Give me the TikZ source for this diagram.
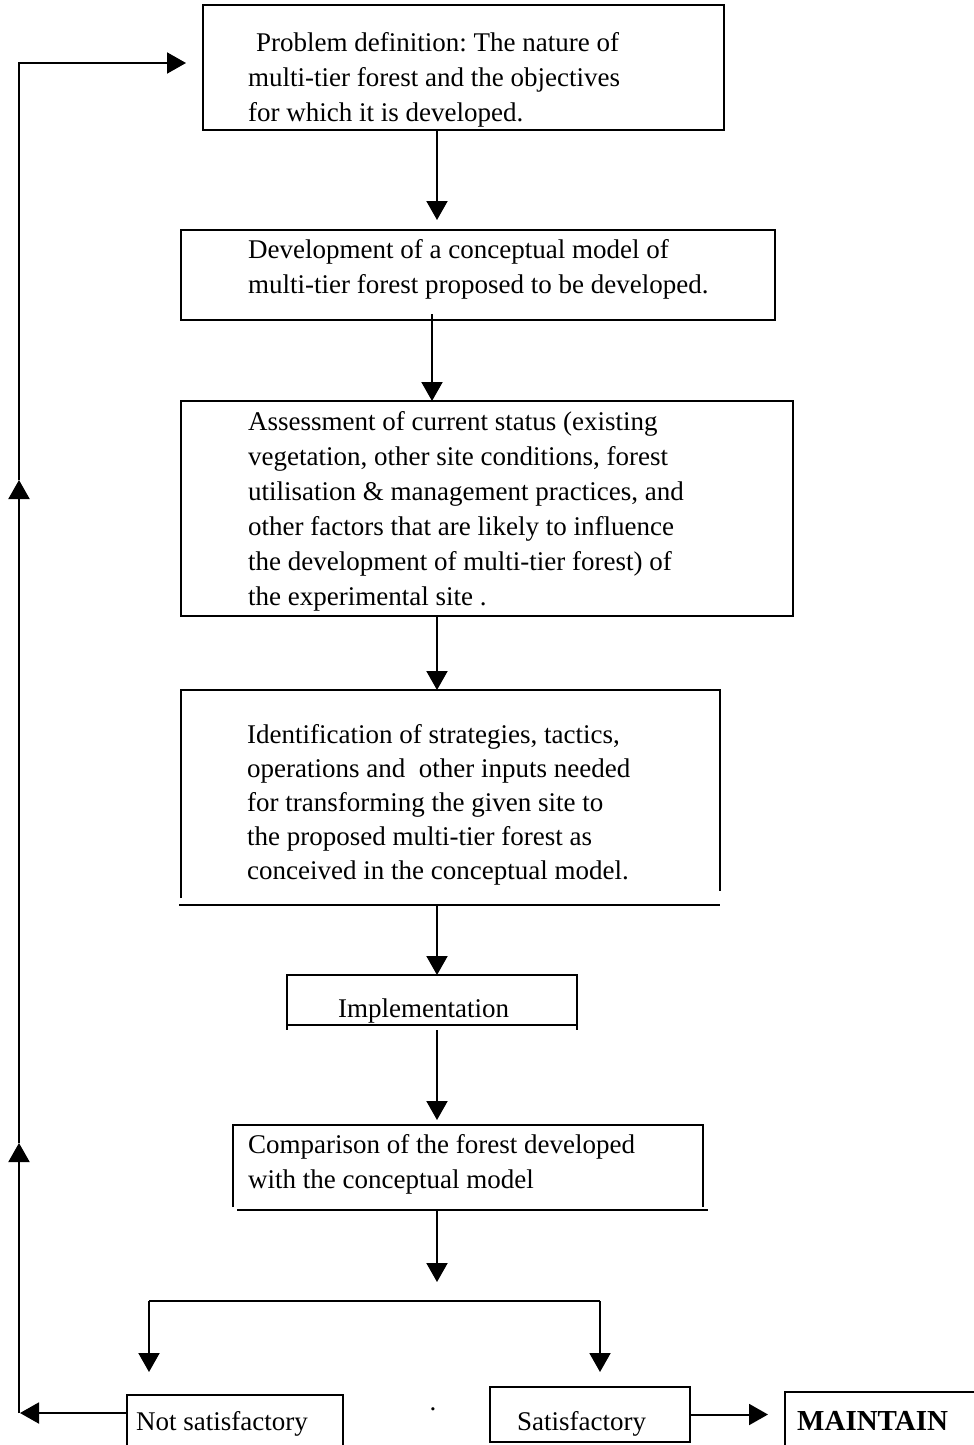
\documentclass[tikz,border=0pt]{standalone}
\usepackage{fontspec}
\setmainfont{Liberation Serif}
\usetikzlibrary{arrows.meta}
\frenchspacing
\newcommand\mylines[1]{\begin{tabular}[t]{@{}l@{}}#1\end{tabular}}
\begin{document}
\begin{tikzpicture}[x=1pt,y=-1pt,
  frame/.style={rectangle, inner sep=0pt, outer sep=0pt, draw=none},
  box/.style={frame, draw, line width=2.6pt},
  boxline/.style={line width=2.6pt},
  conn/.style={line width=2pt, -{Triangle[length=19pt,width=21pt]}},
  plain/.style={line width=2pt},
  txt/.style={inner sep=0pt, anchor=base west, font=\fontsize{27}{35}\selectfont},
]
\useasboundingbox (0,0) rectangle (974,1445);

% boxes
\node[box, minimum width=521pt, minimum height=125pt] (b1) at (463.5,67.5) {};
\node[box, minimum width=594pt, minimum height=90pt] (b2) at (478,275) {};
\node[box, minimum width=612pt, minimum height=215pt] (b3) at (487,508.5) {};
\node[frame, minimum width=539pt, minimum height=215pt] (b4) at (450.5,797.5) {};
\node[box, minimum width=290pt, minimum height=50pt] (b5) at (432,1000) {};
\node[frame, minimum width=470pt, minimum height=85pt] (b6) at (468,1167.5) {};
\node[frame, minimum width=216pt, minimum height=50pt] (b7) at (235,1420) {};
\node[box, minimum width=200pt, minimum height=55pt] (b8) at (590,1414.5) {};
\node[frame, minimum width=189pt, minimum height=53pt] (b9) at (879.5,1418.5) {};

% irregular borders
\draw[boxline] ([yshift=7pt]b4.south west) -- (b4.north west) -- (b4.north east) -- ([yshift=14pt]b4.south east);
\draw[boxline] ([xshift=-2pt]b4.south west) -- (b4.south east);
\draw[boxline] (b5.south west) -- ++(0,5);
\draw[boxline] (b5.south east) -- ++(0,5);
\draw[boxline] ([yshift=3pt]b6.south west) -- (b6.north west) -- (b6.north east) -- ([yshift=3pt]b6.south east);
\draw[boxline] ([xshift=4pt]b6.south west) -- ([xshift=5pt]b6.south east);
\draw[boxline] (b7.south west) -- (b7.north west) -- (b7.north east) -- (b7.south east);
\draw[boxline] (b9.south west) -- (b9.north west) -- (b9.north east);

% texts
\node[txt] (t1) at (248,52) {\mylines{\hspace{8pt}Problem definition: The nature of\\ multi-tier forest and the objectives\\ for which it is developed.}};
\node[txt] (t2) at (248,258) {\mylines{Development of a conceptual model of\\ multi-tier forest proposed to be developed.}};
\node[txt] (t3) at (248,430) {\mylines{Assessment of current status (existing\\ vegetation, other site conditions, forest\\ utilisation \& management practices, and\\ other factors that are likely to influence\\ the development of multi-tier forest) of\\ the experimental site .}};
\node[txt, font=\fontsize{27}{34}\selectfont] (t4) at (247,743) {\mylines{Identification of strategies, tactics,\\ operations and \ other inputs needed\\ for transforming the given site to\\ the proposed multi-tier forest as\\ conceived in the conceptual model.}};
\node[txt] (t5) at (338,1017) {Implementation};
\node[txt] (t6) at (248,1153) {\mylines{Comparison of the forest developed\\ with the conceptual model}};
\node[txt] (t7) at (136,1430) {Not satisfactory};
\node[txt] (t8) at (517,1430) {Satisfactory};
\node[txt, font=\fontsize{29}{35}\selectfont\bfseries] (t9) at (797,1430) {MAINTAIN};
\node[txt, anchor=base] (dot) at (433,1410) {.};

% connectors
\coordinate (a1e) at (437,220);
\draw[conn] ([xshift=-26.5pt]b1.south) -- (a1e);
\draw[conn] ([xshift=-46pt,yshift=6pt]b2.south) -- ([xshift=-55pt]b3.north);
\draw[conn] ([xshift=-50pt]b3.south) -- ([xshift=-13.5pt]b4.north);
\draw[conn] ([xshift=-13.5pt]b4.south) -- ([xshift=5pt]b5.north);
\draw[conn] ([xshift=5pt,yshift=-5pt]b5.south) -- ([xshift=-31pt,yshift=5pt]b6.north);
\coordinate (cmpEnd) at (437,1282);
\draw[conn] ([xshift=-31pt]b6.south) -- (cmpEnd);

\coordinate (brL) at (149,1301);
\coordinate (brR) at (600,1301);
\draw[plain] (brL) -- (brR);
\draw[conn] (brL) -- ([xshift=-86pt,yshift=23pt]b7.north);
\draw[conn] (brR) -- ([xshift=10pt,yshift=15pt]b8.north);

\coordinate (mEnd) at (768,1414.5);
\draw[conn] (b8.east) -- (mEnd);

\coordinate (lb) at (20,1413);
\coordinate (la1) at (19,1143);
\coordinate (la2) at (19,480);
\coordinate (lt) at (19,63);
\coordinate (a0e) at (186,63);
\draw[conn] ([yshift=7pt]b7.west) -- (lb);
\draw[conn] (19,1413) -- (la1);
\draw[conn] (la1) -- (la2);
\draw[conn] (la2) -- (lt) -- (a0e);
\end{tikzpicture}
\end{document}
